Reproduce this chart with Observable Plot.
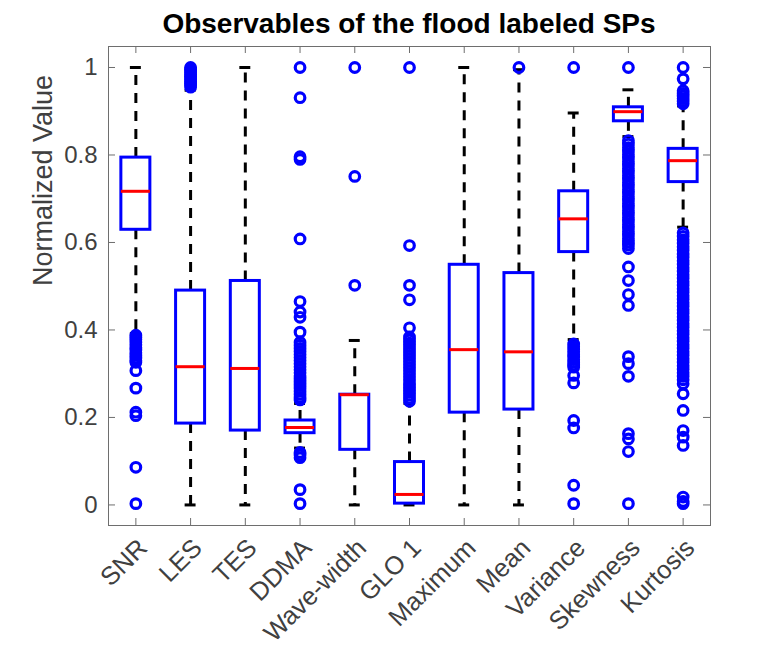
<!DOCTYPE html>
<html>
<head>
<meta charset="utf-8">
<script src="https://cdn.jsdelivr.net/npm/d3@7"></script>
<script src="https://cdn.jsdelivr.net/npm/@observablehq/plot@0.6"></script>
<style>
  body { margin: 0; background: #fff; }
  #title {
    width: 768px; height: 40px; overflow: visible; position: relative;
    font: bold 28px "Liberation Sans", Arial, Helvetica, sans-serif;
    color: #000; text-align: center; padding-left: 50px; box-sizing: border-box;
  }
  #title span { position: absolute; left: 50px; right: 0; top: 8px; line-height: 32px; }
</style>
</head>
<body>
<div id="title"><span>Observables of the flood labeled SPs</span></div>
<div id="chart"></div>
<script>
// Observables (normalized) summarized as box plots
const names = ["SNR", "LES", "TES", "DDMA", "Wave-width", "GLO 1", "Maximum", "Mean", "Variance", "Skewness", "Kurtosis"];
const q1         = [0.629, 0.186, 0.170, 0.164, 0.126, 0.003, 0.211, 0.218, 0.578, 0.877, 0.738];
const median     = [0.717, 0.316, 0.312, 0.177, 0.252, 0.024, 0.355, 0.350, 0.654, 0.899, 0.787];
const q3         = [0.794, 0.490, 0.512, 0.193, 0.252, 0.098, 0.549, 0.530, 0.717, 0.909, 0.814];
const whiskerLow = [0.392, 0, 0, 0.130, 0, 0, 0, 0, 0.378, 0.842, 0.635];
const whiskerHigh= [1, 0.948, 1, 0.232, 0.376, 0.232, 1, 0.995, 0.896, 0.949, 0.912];

// Outliers per observable
const outSNR = [0.388, 0.383, 0.378, 0.372, 0.366, 0.360, 0.354, 0.348, 0.342, 0.336, 0.330, 0.326, 0.307, 0.267, 0.212, 0.204, 0.086, 0.003];
const outLES = [1.0, 0.996, 0.992, 0.988, 0.984, 0.980, 0.976, 0.972, 0.968, 0.964, 0.960, 0.955];
const outTES = [];
const outDDMA = [1.0, 0.931, 0.796, 0.790, 0.608, 0.465, 0.441, 0.429, 0.395, 0.372, 0.365, 0.358, 0.351, 0.344, 0.337, 0.330, 0.323, 0.316, 0.309, 0.302, 0.295, 0.288, 0.281, 0.274, 0.267, 0.260, 0.253, 0.246, 0.240, 0.120, 0.114, 0.108, 0.035, 0.003];
const outWaveWidth = [1.0, 0.751, 0.502];
const outGLO1 = [1.0, 0.593, 0.502, 0.469, 0.405, 0.384, 0.377, 0.370, 0.363, 0.356, 0.349, 0.342, 0.335, 0.328, 0.321, 0.314, 0.307, 0.300, 0.293, 0.286, 0.279, 0.272, 0.265, 0.258, 0.251, 0.244, 0.237];
const outMaximum = [];
const outMean = [1.0];
const outVariance = [1.0, 0.368, 0.362, 0.356, 0.350, 0.344, 0.338, 0.332, 0.326, 0.320, 0.315, 0.296, 0.279, 0.193, 0.176, 0.045, 0.003];
const outSkewness = [1.0, 0.833, 0.825, 0.817, 0.809, 0.801, 0.793, 0.785, 0.777, 0.769, 0.761, 0.753, 0.745, 0.737, 0.729, 0.721, 0.713, 0.705, 0.697, 0.689, 0.681, 0.673, 0.665, 0.657, 0.649, 0.641, 0.633, 0.625, 0.617, 0.609, 0.601, 0.594, 0.586, 0.544, 0.513, 0.481, 0.456, 0.339, 0.323, 0.294, 0.163, 0.151, 0.122, 0.003];
const outKurtosis = [1.0, 0.974, 0.947, 0.941, 0.935, 0.929, 0.923, 0.917, 0.622, 0.614, 0.606, 0.598, 0.590, 0.582, 0.574, 0.566, 0.558, 0.550, 0.542, 0.534, 0.526, 0.518, 0.510, 0.502, 0.494, 0.486, 0.478, 0.470, 0.462, 0.454, 0.446, 0.438, 0.430, 0.422, 0.414, 0.406, 0.398, 0.390, 0.382, 0.374, 0.366, 0.358, 0.350, 0.342, 0.334, 0.326, 0.318, 0.310, 0.302, 0.294, 0.286, 0.277, 0.254, 0.216, 0.170, 0.155, 0.136, 0.018, 0.008, 0.003];
const outlierLists = [outSNR, outLES, outTES, outDDMA, outWaveWidth, outGLO1, outMaximum, outMean, outVariance, outSkewness, outKurtosis];

const yTicks = [0, 0.2, 0.4, 0.6, 0.8, 1];

const stats = names.map((name, i) => ({
  pos: i + 1, name,
  q1: q1[i], med: median[i], q3: q3[i], lo: whiskerLow[i], hi: whiskerHigh[i]
}));
const outliers = outlierLists.flatMap((list, i) => list.map(v => ({pos: i + 1, v})));

const boxHalf = 0.265, capHalf = 0.1;
const frameW = 602, frameH = 479, tickLen = 7;
const font = '"Liberation Sans", Arial, Helvetica, sans-serif';
const textColor = "#404040";
const blue = "#0000ff", red = "#ff0000";
const positions = names.map((_, i) => i + 1);

const chart = Plot.plot({
  width: 768, height: 608,
  marginTop: 6, marginRight: 58, marginBottom: 123, marginLeft: 108,
  x: {domain: [0.5, 11.5], axis: null},
  y: {domain: [-0.047, 1.048], axis: null},
  style: {fontFamily: font, background: "#fff", overflow: "visible"},
  marks: [
    // whiskers
    Plot.ruleX(stats, {x: "pos", y1: "q3", y2: "hi", stroke: "#000", strokeWidth: 3, strokeDasharray: "10,8"}),
    Plot.ruleX(stats, {x: "pos", y1: "q1", y2: "lo", stroke: "#000", strokeWidth: 3, strokeDasharray: "10,8"}),
    // whisker caps
    Plot.ruleY(stats, {y: "hi", x1: d => d.pos - capHalf, x2: d => d.pos + capHalf, stroke: "#000", strokeWidth: 3}),
    Plot.ruleY(stats, {y: "lo", x1: d => d.pos - capHalf, x2: d => d.pos + capHalf, stroke: "#000", strokeWidth: 3}),
    // boxes
    Plot.rect(stats, {x1: d => d.pos - boxHalf, x2: d => d.pos + boxHalf, y1: "q1", y2: "q3", fill: "none", stroke: blue, strokeWidth: 3}),
    // medians
    Plot.ruleY(stats, {y: "med", x1: d => d.pos - boxHalf, x2: d => d.pos + boxHalf, stroke: red, strokeWidth: 3}),
    // outliers
    Plot.dot(outliers, {x: "pos", y: "v", r: 4.8, fill: "none", stroke: blue, strokeWidth: 3.2}),
    // axes box with inward ticks on all sides
    Plot.frame({stroke: "#6e6e6e", strokeWidth: 1}),
    Plot.ruleX(positions, {x: d => d, insetBottom: frameH - tickLen, stroke: "#6e6e6e"}),
    Plot.ruleX(positions, {x: d => d, insetTop: frameH - tickLen, stroke: "#6e6e6e"}),
    Plot.ruleY(yTicks, {y: d => d, insetRight: frameW - tickLen, stroke: "#6e6e6e"}),
    Plot.ruleY(yTicks, {y: d => d, insetLeft: frameW - tickLen, stroke: "#6e6e6e"}),
    // tick labels
    Plot.text(yTicks, {y: d => d, text: d => String(+d.toFixed(1)), frameAnchor: "left", dx: -11, textAnchor: "end", fontSize: 24, fill: textColor}),
    Plot.text(stats, {x: "pos", text: "name", frameAnchor: "bottom", rotate: -45, textAnchor: "end", dx: 13, dy: 24, fontSize: 25.5, fill: textColor}),
    // y-axis title
    Plot.text(["Normalized Value"], {text: d => d, frameAnchor: "left", rotate: -90, dx: -65, fontSize: 27, fill: textColor})
  ]
});
document.getElementById("chart").appendChild(chart);
</script>
</body>
</html>
